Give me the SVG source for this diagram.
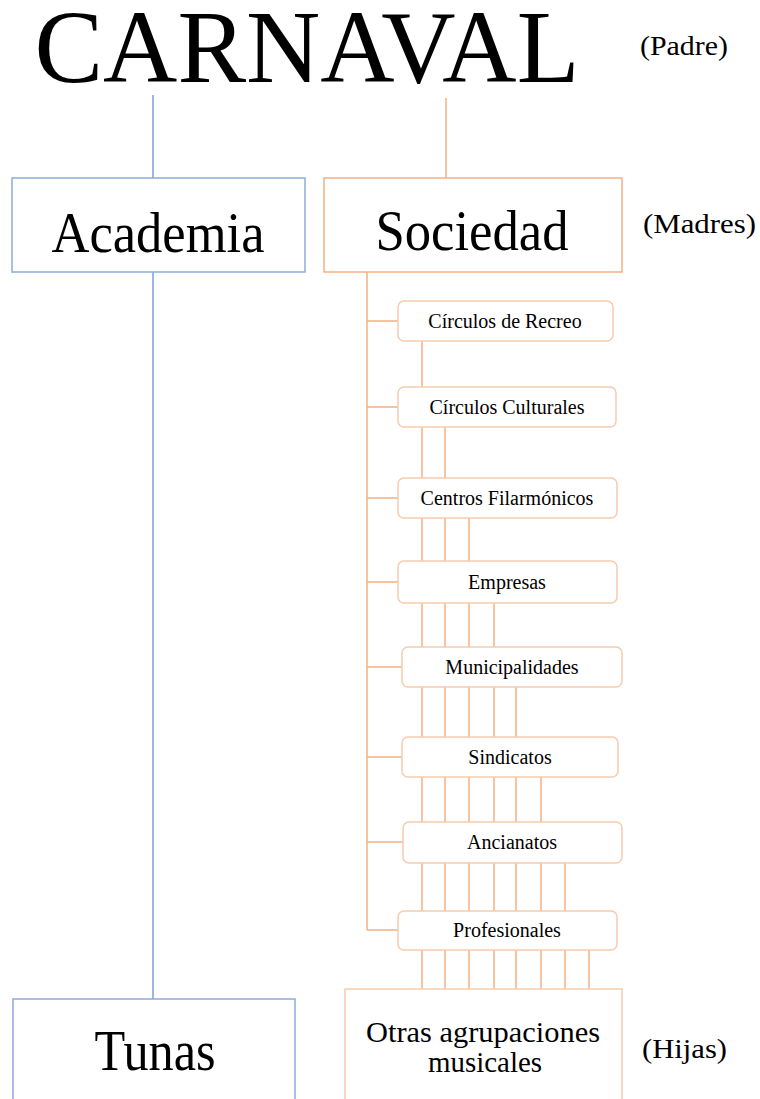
<svg xmlns="http://www.w3.org/2000/svg" width="760" height="1099" viewBox="0 0 760 1099">
<style>
text{font-family:"Liberation Serif","Times New Roman",serif;fill:#000;text-anchor:middle}
.blue{fill:#fff;stroke:#8eaadb;stroke-width:1.5}
.org{fill:#fff;stroke:#f4b183;stroke-width:1.5}
.sm{fill:#fff;stroke:#f8cbad;stroke-width:1.5}
.lb{stroke:#7f9fd6;stroke-width:1.5;fill:none}
.lo{stroke:#f4b183;stroke-width:1.5;fill:none}
.s{font-size:20px}
.lab{font-size:28px;text-anchor:start}
</style>
<rect width="760" height="1099" fill="#fff"/>
<g id="connectors">
<line class="lb" x1="153" y1="95" x2="153" y2="178"/>
<line class="lb" x1="153" y1="272" x2="153" y2="999"/>
<line class="lo" x1="446" y1="98" x2="446" y2="178"/>
<path class="lo" d="M367 272V930M367 321H398M367 407H398M367 498H398M367 582H398M367 667H402M367 757H402M367 842H403M367 930H398"/>
<path class="lo" d="M422 341V989M445 427V989M469 518V989M494 603V989M516 687V989M541 777V989M565 863V989M589 950V989"/>
</g>
<g id="carnaval"><text x="307" y="82" font-size="104" textLength="545" lengthAdjust="spacingAndGlyphs">CARNAVAL</text></g>
<g id="padre"><text class="lab" x="640" y="55" textLength="88" lengthAdjust="spacingAndGlyphs">(Padre)</text></g>
<g id="madres"><text class="lab" x="643" y="233" textLength="113" lengthAdjust="spacingAndGlyphs">(Madres)</text></g>
<g id="hijas"><text class="lab" x="642" y="1058" textLength="85" lengthAdjust="spacingAndGlyphs">(Hijas)</text></g>
<g id="academia"><rect class="blue" x="12" y="178" width="293" height="94"/><text x="158" y="252" font-size="58" textLength="213" lengthAdjust="spacingAndGlyphs">Academia</text></g>
<g id="sociedad"><rect class="org" x="324" y="178" width="298" height="94"/><text x="472" y="250" font-size="58" textLength="193" lengthAdjust="spacingAndGlyphs">Sociedad</text></g>
<g id="n1"><rect class="sm" x="398" y="301" width="215" height="40" rx="6"/><text class="s" x="505" y="328">Círculos de Recreo</text></g>
<g id="n2"><rect class="sm" x="398" y="387" width="218" height="40" rx="6"/><text class="s" x="507" y="414">Círculos Culturales</text></g>
<g id="n3"><rect class="sm" x="398" y="478" width="219" height="40" rx="6"/><text class="s" x="507" y="505">Centros Filarmónicos</text></g>
<g id="n4"><rect class="sm" x="398" y="561" width="219" height="42" rx="6"/><text class="s" x="507" y="589">Empresas</text></g>
<g id="n5"><rect class="sm" x="402" y="647" width="220" height="40" rx="6"/><text class="s" x="512" y="674">Municipalidades</text></g>
<g id="n6"><rect class="sm" x="402" y="737" width="216" height="40" rx="6"/><text class="s" x="510" y="764">Sindicatos</text></g>
<g id="n7"><rect class="sm" x="403" y="822" width="219" height="41" rx="6"/><text class="s" x="512" y="849">Ancianatos</text></g>
<g id="n8"><rect class="sm" x="398" y="911" width="219" height="39" rx="6"/><text class="s" x="507" y="937">Profesionales</text></g>
<g id="tunas"><rect class="blue" x="13" y="999" width="282" height="120"/><text x="155" y="1070" font-size="56" textLength="121" lengthAdjust="spacingAndGlyphs">Tunas</text></g>
<g id="otras"><rect class="sm" x="345" y="989" width="277" height="130"/><text x="483" y="1042" font-size="29" textLength="234" lengthAdjust="spacingAndGlyphs">Otras agrupaciones</text><text x="485" y="1072" font-size="29" textLength="114" lengthAdjust="spacingAndGlyphs">musicales</text></g>
</svg>
